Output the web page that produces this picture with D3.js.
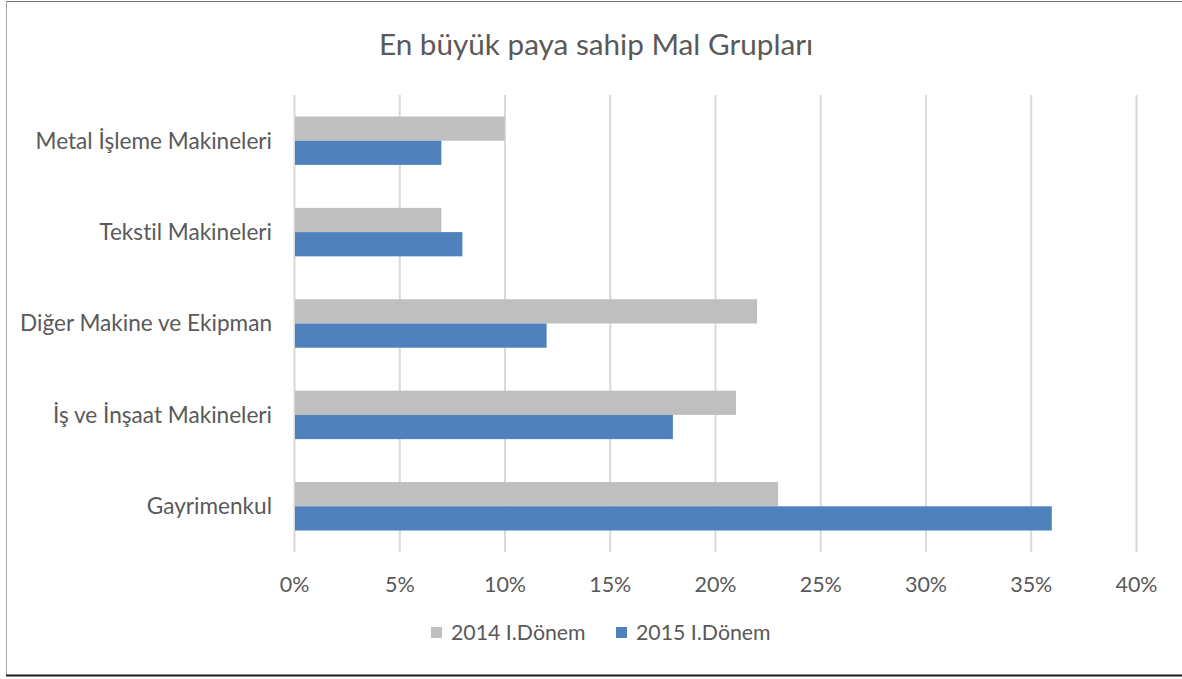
<!DOCTYPE html>
<html>
<head>
<meta charset="utf-8">
<script src="https://cdn.jsdelivr.net/npm/d3@7"></script>
<style>
  body { margin: 0; background: #fff; }
  text { font-family: Lato, "Open Sans", sans-serif; fill: #595959; font-variant-ligatures: none; }
</style>
</head>
<body>
<svg id="chart"></svg>
<script>
// data
let categories = ["Metal İşleme Makineleri", "Tekstil Makineleri", "Diğer Makine ve Ekipman", "İş ve İnşaat Makineleri", "Gayrimenkul"];
let series = ["2014 I.Dönem", "2015 I.Dönem"];
let values2014 = [10, 7, 22, 21, 23];
let values2015 = [7, 8, 12, 18, 36];
let ticks = [0, 5, 10, 15, 20, 25, 30, 35, 40];
let colors = ["#bfbfbf", "#4f81bd"];

let w = 1182;
let h = 679;

let leftmargin = 294;
let rightmargin = 46;
let topmargin = 95;
let downmargin = 127;

let plotw = w - leftmargin - rightmargin;
let ploth = h - topmargin - downmargin;

let svg = d3.select("#chart").attr("width", w).attr("height", h);

// frame
svg.append("line").attr("x1", 6).attr("x2", w).attr("y1", 1.5).attr("y2", 1.5).attr("stroke", "#6f6f6f").attr("stroke-width", 1);
svg.append("line").attr("x1", 6.5).attr("x2", 6.5).attr("y1", 1).attr("y2", 675).attr("stroke", "#a6a6a6").attr("stroke-width", 1);
svg.append("line").attr("x1", 6).attr("x2", w).attr("y1", 675.5).attr("y2", 675.5).attr("stroke", "#1a1a1a").attr("stroke-width", 2);

svg.append("text")
    .text("En büyük paya sahip Mal Grupları")
    .attr("x", 596)
    .attr("y", 55)
    .attr("text-anchor", "middle")
    .style("font-size", "29.7px");

let xscale = d3.scaleLinear().domain([0, 40]).range([0, plotw]);

let yscale = d3.scaleBand()
    .domain(categories)
    .range([0, ploth])
    .paddingInner(0.47)
    .paddingOuter(0.235);

let sub = d3.scaleBand().domain(series).range([0, yscale.bandwidth()]);

let g = svg.append("g").attr("transform", `translate(${leftmargin},${topmargin})`);

// grid
let xaxis = d3.axisBottom(xscale).tickValues(ticks).tickSize(ploth).tickFormat(d => d + "%");
let xaxisg = g.append("g").call(xaxis);
xaxisg.select(".domain").remove();
xaxisg.selectAll(".tick line").attr("stroke", "#d9d9d9").attr("stroke-width", 2);
xaxisg.selectAll(".tick text").attr("dy", 0).attr("y", ploth + 40).style("font-size", "21.5px").attr("fill", "#595959");

// category labels
let yaxis = d3.axisLeft(yscale).tickSize(0).tickPadding(22);
let yaxisg = g.append("g").call(yaxis);
yaxisg.select(".domain").remove();
yaxisg.selectAll(".tick text").attr("dy", "0.35em").style("font-size", "22.6px").attr("fill", "#595959");

let rows = categories.map((c, i) => ({cat: c, vals: [values2014[i], values2015[i]]}));

let bars = g.selectAll(".row")
    .data(rows)
    .enter().append("g")
    .attr("transform", d => `translate(0,${yscale(d.cat)})`);

bars.selectAll("rect")
    .data(d => d.vals.map((v, i) => ({s: series[i], v: v, c: colors[i]})))
    .enter().append("rect")
    .attr("x", 1)
    .attr("y", d => sub(d.s))
    .attr("width", d => xscale(d.v) - 1)
    .attr("height", sub.bandwidth())
    .style("fill", d => d.c);

// legend
let legx = [431, 616];
let legend = svg.selectAll(".leg")
    .data(series)
    .enter().append("g")
    .attr("transform", (d, i) => `translate(${legx[i]},627)`);

legend.append("rect").attr("width", 11).attr("height", 11).style("fill", (d, i) => colors[i]);
legend.append("text").text(d => d).attr("x", 20).attr("y", 12.5).style("font-size", "21.3px");
</script>
</body>
</html>
